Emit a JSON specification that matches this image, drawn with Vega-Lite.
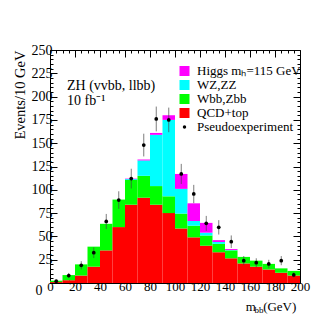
{
  "$schema": "https://vega.github.io/schema/vega-lite/v6.json",
  "width": 250,
  "height": 233,
  "autosize": "none",
  "padding": {"left": 50, "top": 50, "right": 33, "bottom": 50},
  "background": "white",
  "config": {
    "font": "Liberation Serif",
    "view": {"stroke": "black", "strokeWidth": 1},
    "axis": {"domainColor": "black", "tickColor": "black", "labelColor": "black", "titleColor": "black", "labelFont": "Liberation Serif", "titleFont": "Liberation Serif", "titleFontWeight": "normal", "labelFontSize": 13, "grid": false},
    "legend": {"labelFont": "Liberation Serif", "labelFontSize": 13, "labelColor": "black"}
  },
  "datasets": {
    "bkg": [
      {"bin": 0, "bin_end": 10, "comp": "QCD+top", "ord": 1, "v": 1},
      {"bin": 0, "bin_end": 10, "comp": "Wbb,Zbb", "ord": 2, "v": 1.5},
      {"bin": 10, "bin_end": 20, "comp": "QCD+top", "ord": 1, "v": 3},
      {"bin": 10, "bin_end": 20, "comp": "Wbb,Zbb", "ord": 2, "v": 5.5},
      {"bin": 20, "bin_end": 30, "comp": "QCD+top", "ord": 1, "v": 8},
      {"bin": 20, "bin_end": 30, "comp": "Wbb,Zbb", "ord": 2, "v": 12},
      {"bin": 30, "bin_end": 40, "comp": "QCD+top", "ord": 1, "v": 17.5},
      {"bin": 30, "bin_end": 40, "comp": "Wbb,Zbb", "ord": 2, "v": 21.5},
      {"bin": 40, "bin_end": 50, "comp": "QCD+top", "ord": 1, "v": 35},
      {"bin": 40, "bin_end": 50, "comp": "Wbb,Zbb", "ord": 2, "v": 28.5},
      {"bin": 50, "bin_end": 60, "comp": "QCD+top", "ord": 1, "v": 60},
      {"bin": 50, "bin_end": 60, "comp": "Wbb,Zbb", "ord": 2, "v": 29.5},
      {"bin": 60, "bin_end": 70, "comp": "QCD+top", "ord": 1, "v": 84},
      {"bin": 60, "bin_end": 70, "comp": "Wbb,Zbb", "ord": 2, "v": 26.5},
      {"bin": 60, "bin_end": 70, "comp": "WZ,ZZ", "ord": 3, "v": 1},
      {"bin": 60, "bin_end": 70, "comp": "Higgs mₕ=115 GeV", "ord": 4, "v": 0.5},
      {"bin": 70, "bin_end": 80, "comp": "QCD+top", "ord": 1, "v": 91.5},
      {"bin": 70, "bin_end": 80, "comp": "Wbb,Zbb", "ord": 2, "v": 23.5},
      {"bin": 70, "bin_end": 80, "comp": "WZ,ZZ", "ord": 3, "v": 16.5},
      {"bin": 70, "bin_end": 80, "comp": "Higgs mₕ=115 GeV", "ord": 4, "v": 1},
      {"bin": 80, "bin_end": 90, "comp": "QCD+top", "ord": 1, "v": 84},
      {"bin": 80, "bin_end": 90, "comp": "Wbb,Zbb", "ord": 2, "v": 20},
      {"bin": 80, "bin_end": 90, "comp": "WZ,ZZ", "ord": 3, "v": 55},
      {"bin": 80, "bin_end": 90, "comp": "Higgs mₕ=115 GeV", "ord": 4, "v": 2},
      {"bin": 90, "bin_end": 100, "comp": "QCD+top", "ord": 1, "v": 75},
      {"bin": 90, "bin_end": 100, "comp": "Wbb,Zbb", "ord": 2, "v": 18},
      {"bin": 90, "bin_end": 100, "comp": "WZ,ZZ", "ord": 3, "v": 82},
      {"bin": 90, "bin_end": 100, "comp": "Higgs mₕ=115 GeV", "ord": 4, "v": 5},
      {"bin": 100, "bin_end": 110, "comp": "QCD+top", "ord": 1, "v": 58.5},
      {"bin": 100, "bin_end": 110, "comp": "Wbb,Zbb", "ord": 2, "v": 16},
      {"bin": 100, "bin_end": 110, "comp": "WZ,ZZ", "ord": 3, "v": 26.5},
      {"bin": 100, "bin_end": 110, "comp": "Higgs mₕ=115 GeV", "ord": 4, "v": 16},
      {"bin": 110, "bin_end": 120, "comp": "QCD+top", "ord": 1, "v": 49},
      {"bin": 110, "bin_end": 120, "comp": "Wbb,Zbb", "ord": 2, "v": 12.5},
      {"bin": 110, "bin_end": 120, "comp": "WZ,ZZ", "ord": 3, "v": 5},
      {"bin": 110, "bin_end": 120, "comp": "Higgs mₕ=115 GeV", "ord": 4, "v": 19},
      {"bin": 120, "bin_end": 130, "comp": "QCD+top", "ord": 1, "v": 40},
      {"bin": 120, "bin_end": 130, "comp": "Wbb,Zbb", "ord": 2, "v": 11},
      {"bin": 120, "bin_end": 130, "comp": "WZ,ZZ", "ord": 3, "v": 3},
      {"bin": 120, "bin_end": 130, "comp": "Higgs mₕ=115 GeV", "ord": 4, "v": 10.5},
      {"bin": 130, "bin_end": 140, "comp": "QCD+top", "ord": 1, "v": 33},
      {"bin": 130, "bin_end": 140, "comp": "Wbb,Zbb", "ord": 2, "v": 9},
      {"bin": 130, "bin_end": 140, "comp": "WZ,ZZ", "ord": 3, "v": 2},
      {"bin": 130, "bin_end": 140, "comp": "Higgs mₕ=115 GeV", "ord": 4, "v": 2},
      {"bin": 140, "bin_end": 150, "comp": "QCD+top", "ord": 1, "v": 26.5},
      {"bin": 140, "bin_end": 150, "comp": "Wbb,Zbb", "ord": 2, "v": 8.5},
      {"bin": 140, "bin_end": 150, "comp": "WZ,ZZ", "ord": 3, "v": 0.5},
      {"bin": 140, "bin_end": 150, "comp": "Higgs mₕ=115 GeV", "ord": 4, "v": 1},
      {"bin": 150, "bin_end": 160, "comp": "QCD+top", "ord": 1, "v": 21},
      {"bin": 150, "bin_end": 160, "comp": "Wbb,Zbb", "ord": 2, "v": 7},
      {"bin": 160, "bin_end": 170, "comp": "QCD+top", "ord": 1, "v": 17.5},
      {"bin": 160, "bin_end": 170, "comp": "Wbb,Zbb", "ord": 2, "v": 6.5},
      {"bin": 170, "bin_end": 180, "comp": "QCD+top", "ord": 1, "v": 14.5},
      {"bin": 170, "bin_end": 180, "comp": "Wbb,Zbb", "ord": 2, "v": 6},
      {"bin": 180, "bin_end": 190, "comp": "QCD+top", "ord": 1, "v": 11},
      {"bin": 180, "bin_end": 190, "comp": "Wbb,Zbb", "ord": 2, "v": 4.7},
      {"bin": 190, "bin_end": 200, "comp": "QCD+top", "ord": 1, "v": 8},
      {"bin": 190, "bin_end": 200, "comp": "Wbb,Zbb", "ord": 2, "v": 5}
    ],
    "pseudo": [
      {"m": 5, "n": 2, "lo": 0.6, "hi": 3.4},
      {"m": 15, "n": 8, "lo": 5.2, "hi": 10.8},
      {"m": 25, "n": 19, "lo": 14.6, "hi": 23.4},
      {"m": 35, "n": 32.5, "lo": 26.8, "hi": 38.2},
      {"m": 45, "n": 66, "lo": 57.9, "hi": 74.1},
      {"m": 55, "n": 89, "lo": 79.6, "hi": 98.4},
      {"m": 65, "n": 112, "lo": 101.4, "hi": 122.6},
      {"m": 75, "n": 148, "lo": 135.8, "hi": 160.2},
      {"m": 85, "n": 176, "lo": 162.7, "hi": 189.3},
      {"m": 95, "n": 175, "lo": 161.8, "hi": 188.2},
      {"m": 105, "n": 117, "lo": 106.2, "hi": 127.8},
      {"m": 115, "n": 95.5, "lo": 85.7, "hi": 105.3},
      {"m": 125, "n": 64, "lo": 56, "hi": 72},
      {"m": 135, "n": 59.7, "lo": 52, "hi": 67.4},
      {"m": 145, "n": 44.3, "lo": 37.6, "hi": 51},
      {"m": 155, "n": 24, "lo": 19.1, "hi": 28.9},
      {"m": 165, "n": 21.8, "lo": 17.1, "hi": 26.5},
      {"m": 175, "n": 20.4, "lo": 15.9, "hi": 24.9},
      {"m": 185, "n": 24, "lo": 19.1, "hi": 28.9},
      {"m": 195, "n": 8.6, "lo": 5.7, "hi": 11.5}
    ],
    "notes": [
      {"tx": 13.6, "ty": 211, "label": "ZH (vvbb, llbb)", "kind": "main"},
      {"tx": 13.6, "ty": 195, "label": "10 fb⁻¹", "kind": "main"},
      {"tx": 156.5, "ty": -25.5, "label": "m", "kind": "axis"},
      {"tx": 163.5, "ty": -29.5, "label": "bb", "kind": "sub"},
      {"tx": 170.5, "ty": -25.5, "label": "(GeV)", "kind": "axis"}
    ]
  },
  "layer": [
    {
      "data": {"name": "bkg"},
      "transform": [
        {"stack": "v", "groupby": ["bin"], "sort": [{"field": "ord", "order": "ascending"}], "as": ["v0", "v1"]}
      ],
      "mark": {"type": "rect", "strokeWidth": 0},
      "encoding": {
        "x": {"field": "bin", "type": "quantitative", "scale": {"domain": [0, 200], "nice": false},
          "axis": {"orient": "bottom", "title": null, "values": [0,5,10,15,20,25,30,35,40,45,50,55,60,65,70,75,80,85,90,95,100,105,110,115,120,125,130,135,140,145,150,155,160,165,170,175,180,185,190,195,200],
            "labelExpr": "datum.value % 20 === 0 ? datum.label : ''",
            "tickSize": {"condition": {"test": "datum.value % 20 === 0", "value": -7}, "value": -3},
            "labelPadding": 4, "labelFlush": false, "domain": false}},
        "x2": {"field": "bin_end"},
        "y": {"field": "v0", "type": "quantitative", "scale": {"domain": [0, 250], "nice": false},
          "axis": {"orient": "left", "values": [0,5,10,15,20,25,30,35,40,45,50,55,60,65,70,75,80,85,90,95,100,105,110,115,120,125,130,135,140,145,150,155,160,165,170,175,180,185,190,195,200,205,210,215,220,225,230,235,240,245,250],
            "labelExpr": "datum.value % 25 === 0 ? datum.label : ''",
            "labelFontSize": 14,
            "tickSize": {"condition": {"test": "datum.value % 25 === 0", "value": -7}, "value": -3},
            "labelPadding": {"condition": {"test": "datum.value === 0", "value": 15}, "value": 5},
            "labelBaseline": {"condition": {"test": "datum.value === 0", "value": "top"}, "value": "middle"},
            "domain": false,
            "title": "Events/10 GeV", "titleFontSize": 14.5, "titleAnchor": "end", "titlePadding": 4}},
        "y2": {"field": "v1"},
        "color": {"field": "comp", "type": "nominal",
          "scale": {"domain": ["Higgs mₕ=115 GeV", "WZ,ZZ", "Wbb,Zbb", "QCD+top", "Pseudoexperiment"],
                    "range": ["#ff00ff", "#00ffff", "#00ff00", "#ff0000", "#000000"]},
          "legend": {"title": null, "orient": "none", "legendX": 128, "legendY": 14.5,
            "symbolType": "square", "symbolSize": 100, "symbolStrokeWidth": 0, "rowPadding": 0, "labelOffset": 6,
            "encode": {"symbols": {
              "enter": {
                "shape": {"signal": "datum.label === 'Pseudoexperiment' ? 'circle' : 'square'"},
                "size": {"signal": "datum.label === 'Pseudoexperiment' ? 12 : 100"}},
              "update": {
                "shape": {"signal": "datum.label === 'Pseudoexperiment' ? 'circle' : 'square'"},
                "size": {"signal": "datum.label === 'Pseudoexperiment' ? 12 : 100"}}}}}}
      }
    },
    {
      "data": {"name": "pseudo"},
      "mark": {"type": "rule", "color": "#444444", "strokeWidth": 1, "opacity": 0.7},
      "encoding": {
        "x": {"field": "m", "type": "quantitative", "axis": null},
        "y": {"field": "lo", "type": "quantitative", "axis": null},
        "y2": {"field": "hi"}
      }
    },
    {
      "data": {"name": "pseudo"},
      "mark": {"type": "point", "filled": true, "color": "black", "size": 14, "opacity": 1},
      "encoding": {
        "x": {"field": "m", "type": "quantitative",
          "axis": {"orient": "top", "labels": false, "title": null, "domain": false, "values": [0,5,10,15,20,25,30,35,40,45,50,55,60,65,70,75,80,85,90,95,100,105,110,115,120,125,130,135,140,145,150,155,160,165,170,175,180,185,190,195,200],
            "tickSize": {"condition": {"test": "datum.value % 20 === 0", "value": -7}, "value": -3}}},
        "y": {"field": "n", "type": "quantitative",
          "axis": {"orient": "right", "labels": false, "title": null, "domain": false, "values": [0,5,10,15,20,25,30,35,40,45,50,55,60,65,70,75,80,85,90,95,100,105,110,115,120,125,130,135,140,145,150,155,160,165,170,175,180,185,190,195,200,205,210,215,220,225,230,235,240,245,250],
            "tickSize": {"condition": {"test": "datum.value % 25 === 0", "value": -7}, "value": -3}}}
      }
    },
    {
      "data": {"name": "notes"},
      "transform": [{"filter": "datum.kind === 'main'"}],
      "mark": {"type": "text", "align": "left", "baseline": "middle", "font": "Liberation Serif", "fontSize": 14, "color": "black"},
      "encoding": {
        "x": {"field": "tx", "type": "quantitative", "axis": null},
        "y": {"field": "ty", "type": "quantitative", "axis": null},
        "text": {"field": "label"}
      }
    },
    {
      "data": {"name": "notes"},
      "transform": [{"filter": "datum.kind === 'axis'"}],
      "mark": {"type": "text", "align": "left", "baseline": "middle", "font": "Liberation Serif", "fontSize": 13, "color": "black"},
      "encoding": {
        "x": {"field": "tx", "type": "quantitative", "axis": null},
        "y": {"field": "ty", "type": "quantitative", "axis": null},
        "text": {"field": "label"}
      }
    },
    {
      "data": {"name": "notes"},
      "transform": [{"filter": "datum.kind === 'sub'"}],
      "mark": {"type": "text", "align": "left", "baseline": "middle", "font": "Liberation Serif", "fontSize": 9, "color": "black"},
      "encoding": {
        "x": {"field": "tx", "type": "quantitative", "axis": null},
        "y": {"field": "ty", "type": "quantitative", "axis": null},
        "text": {"field": "label"}
      }
    }
  ],
  "resolve": {"axis": {"x": "independent", "y": "independent"}}
}
